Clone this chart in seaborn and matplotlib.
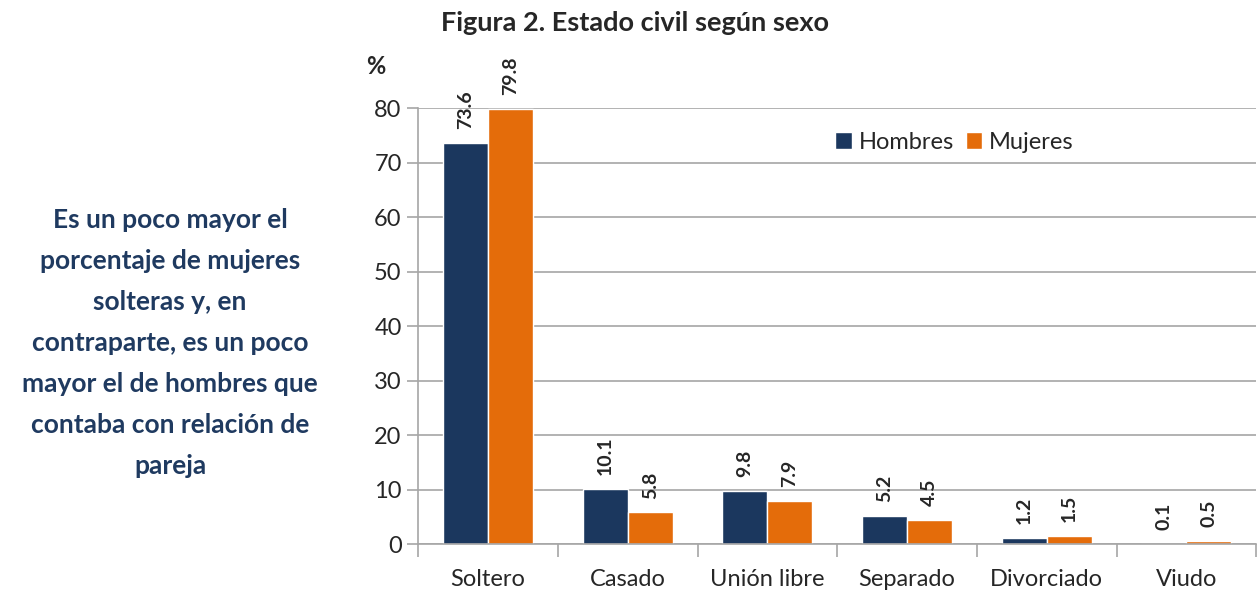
import pandas as pd
import matplotlib
matplotlib.use("Agg")
import matplotlib.pyplot as plt
import seaborn as sns

# ==========================================
# DATA
# ==========================================

categorias = ["Soltero", "Casado", "Unión libre", "Separado", "Divorciado", "Viudo"]
hombres = [73.6, 10.1, 9.8, 5.2, 1.2, 0.1]
mujeres = [79.8, 5.8, 7.9, 4.5, 1.5, 0.5]
series = ["Hombres", "Mujeres"]
colores = ["#1B375E", "#E46C0A"]
y_ticks = [0, 10, 20, 30, 40, 50, 60, 70, 80]

df = pd.DataFrame({
    "estado": categorias * 2,
    "sexo": [series[0]] * len(categorias) + [series[1]] * len(categorias),
    "valor": hombres + mujeres,
})

# ==========================================
# PLOT
# ==========================================

sns.set_style("white")
plt.rcParams["font.family"] = ["Lato", "DejaVu Sans"]

fig = plt.figure(figsize=(12.6, 5.94), dpi=100)
ax = fig.add_axes([0.332, 0.084, 0.665, 0.734])

sns.barplot(
    data=df, x="estado", y="valor", hue="sexo",
    order=categorias, hue_order=series, palette=colores,
    width=0.645, saturation=1, ax=ax, legend=True,
)

ax.set_ylim(0, 80)
ax.set_xlim(-0.5, len(categorias) - 0.5)
ax.set_yticks(y_ticks)
ax.yaxis.grid(True, color="#A6A6A6", linewidth=1.2)
ax.set_axisbelow(True)

for s in ["top", "right"]:
    ax.spines[s].set_visible(False)
for s in ["left", "bottom"]:
    ax.spines[s].set_color("#A6A6A6")
    ax.spines[s].set_linewidth(1.2)

ax.tick_params(axis="y", length=8, color="#A6A6A6", width=1.2,
               labelsize=17, pad=4, left=True)
ax.set_xticks(range(len(categorias)))
ax.set_xticklabels(categorias, fontsize=17)
ax.tick_params(axis="x", length=0, pad=18)
# minor ticks on category boundaries
ax.set_xticks([i - 0.5 for i in range(len(categorias) + 1)], minor=True)
ax.tick_params(axis="x", which="minor", length=9, color="#A6A6A6",
               width=1.2, bottom=True)

ax.set_xlabel("")
ax.set_ylabel("")

# value labels
for cont in ax.containers:
    ax.bar_label(cont, fmt="%.1f", rotation=90, padding=10,
                 fontsize=14, fontweight="bold")

ax.legend(loc="upper left", bbox_to_anchor=(0.472, 0.995), ncol=2,
          frameon=False, fontsize=17, handlelength=0.7,
          handleheight=0.7, handletextpad=0.3, columnspacing=0.5)

fig.text(0.298, 0.888, "%", fontsize=17, fontweight="bold",
         ha="center", va="center")
fig.text(0.504, 0.962, "Figura 2. Estado civil según sexo", fontsize=19.5,
         fontweight="bold", ha="center", va="center")

fig.text(0.135, 0.422,
         "Es un poco mayor el\nporcentaje de mujeres\nsolteras y, en\n"
         "contraparte, es un poco\nmayor el de hombres que\n"
         "contaba con relación de\npareja",
         fontsize=19, fontweight="bold", color="#1F3A60",
         ha="center", va="center", linespacing=1.85)

fig.savefig("out.png", dpi=100)
